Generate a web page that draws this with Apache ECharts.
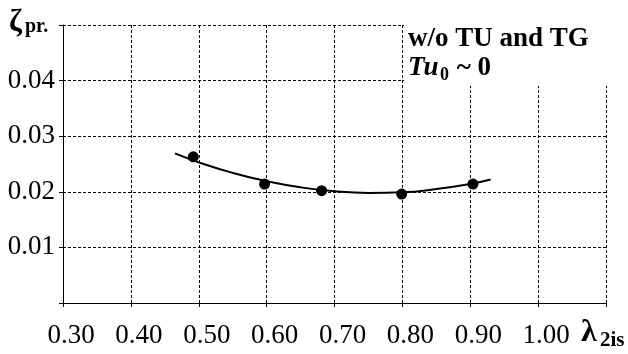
<!DOCTYPE html>
<html>
<head>
<meta charset="utf-8">
<script src="https://cdn.jsdelivr.net/npm/echarts@6/dist/echarts.min.js"></script>
<style>
  html, body { margin: 0; padding: 0; background: #fff; }
  #chart { width: 628px; height: 354px; }
</style>
</head>
<body>
<div id="chart"></div>
<script>
// Measured loss coefficient vs. isentropic velocity coefficient
var lambdaPts = [0.492, 0.597, 0.681, 0.799, 0.904];
var zetaPts   = [0.0263, 0.0214, 0.0202, 0.0196, 0.0214];

// Trend curve through the measurements
var lambdaTrend = [0.465, 0.50, 0.55, 0.60, 0.65, 0.70, 0.75, 0.80, 0.85, 0.90, 0.93];
var zetaTrend   = [0.0269, 0.0253, 0.0234, 0.0219, 0.0208, 0.0201, 0.0198, 0.0199, 0.0205, 0.0214, 0.0222];

// Tick labels
var xTickLabels = ['0.30', '0.40', '0.50', '0.60', '0.70', '0.80', '0.90', '1.00', ''];
var yTickLabels = ['', '0.01', '0.02', '0.03', '0.04', ''];

var FONT = '"Liberation Serif", "Times New Roman", serif';

var chart = echarts.init(document.getElementById('chart'), null, { renderer: 'canvas' });

var dash = { color: '#000', width: 1, type: [3, 2] };

chart.setOption({
  animation: false,
  backgroundColor: '#fff',
  grid: { left: 63, right: 22, top: 25, bottom: 51, containLabel: false },
  xAxis: {
    type: 'value',
    min: 0.3, max: 1.1, interval: 0.1,
    axisLine: { show: true, onZero: false, lineStyle: { color: '#000', width: 1 } },
    axisTick: { show: true, length: 4, lineStyle: { color: '#000' } },
    splitLine: { show: true, lineStyle: dash },
    axisLabel: {
      margin: 19,
      color: '#000',
      fontFamily: FONT,
      fontSize: 27,
      padding: [0, 0, 0, 16],
      showMaxLabel: true,
      showMinLabel: true,
      formatter: function (v) { return xTickLabels[Math.round((v - 0.3) * 10)]; }
    }
  },
  yAxis: {
    type: 'value',
    min: 0, max: 0.05, interval: 0.01,
    axisLine: { show: true, lineStyle: { color: '#000', width: 1 } },
    axisTick: { show: true, length: 4, lineStyle: { color: '#000' } },
    splitLine: { show: true, lineStyle: dash },
    axisLabel: {
      margin: 8,
      color: '#000',
      fontFamily: FONT,
      fontSize: 27,
      showMaxLabel: true,
      showMinLabel: true,
      formatter: function (v) { return yTickLabels[Math.round(v * 100)]; }
    }
  },
  series: [
    {
      type: 'line',
      data: lambdaTrend.map(function (x, i) { return [x, zetaTrend[i]]; }),
      smooth: true,
      showSymbol: false,
      lineStyle: { color: '#000', width: 2 },
      z: 3
    },
    {
      type: 'scatter',
      data: lambdaPts.map(function (x, i) { return [x, zetaPts[i]]; }),
      symbol: 'circle',
      symbolSize: 11,
      itemStyle: { color: '#000', opacity: 1 },
      z: 4
    }
  ],
  graphic: [
    // clear the grid behind the annotation block
    { type: 'rect', z: 100, shape: { x: 404, y: 0, width: 224, height: 86 }, style: { fill: '#fff' } },
    { type: 'text', z: 101, x: 408, y: 39, style: { text: 'w/o TU and TG', font: 'bold 27px ' + FONT, fill: '#000', verticalAlign: 'middle' } },
    { type: 'text', z: 101, x: 408, y: 68, style: { text: 'Tu', font: 'italic bold 27px ' + FONT, fill: '#000', verticalAlign: 'middle' } },
    { type: 'text', z: 101, x: 440, y: 75, style: { text: '0', font: 'bold 18px ' + FONT, fill: '#000', verticalAlign: 'middle' } },
    { type: 'text', z: 101, x: 450, y: 68, style: { text: ' ~ 0', font: 'bold 27px ' + FONT, fill: '#000', verticalAlign: 'middle' } },
    // axis names
    { type: 'text', z: 101, x: 9, y: 23, style: { text: 'ζ', font: 'bold 31px ' + FONT, fill: '#000', verticalAlign: 'middle' } },
    { type: 'text', z: 101, x: 25, y: 27, style: { text: 'pr.', font: 'bold 20px ' + FONT, fill: '#000', verticalAlign: 'middle' } },
    { type: 'text', z: 101, x: 581, y: 333, style: { text: 'λ', font: 'bold 32px ' + FONT, fill: '#000', verticalAlign: 'middle' } },
    { type: 'text', z: 101, x: 600, y: 341, style: { text: '2is', font: 'bold 21px ' + FONT, fill: '#000', verticalAlign: 'middle' } }
  ]
});
</script>
</body>
</html>
